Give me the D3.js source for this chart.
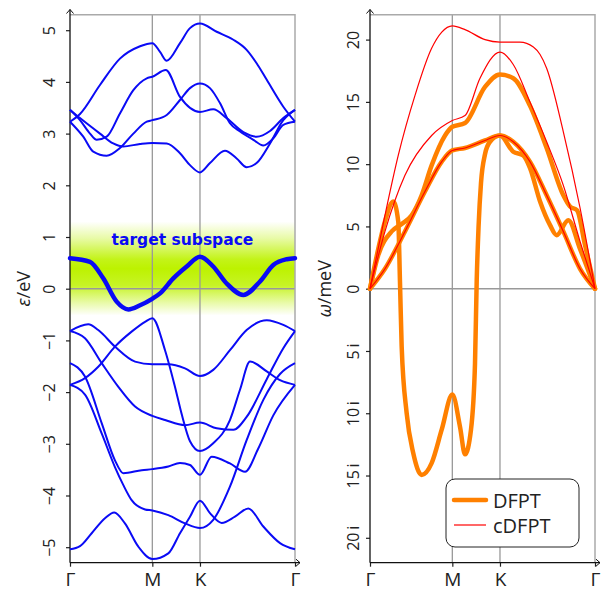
<!DOCTYPE html>
<html>
<head>
<meta charset="utf-8">
<script src="https://cdn.jsdelivr.net/npm/d3@7"></script>
<style>
  body { margin: 0; background: #fff; }
  text { font-family: "Open Sans", sans-serif; }
</style>
</head>
<body>
<div id="chart"></div>
<script>
// ---- path along the Brillouin zone (path length units) ----
const kTicks = [0, 0.577, 0.911, 1.577];
const kLabels = ["Γ", "M", "K", "Γ"];

// ---- electronic bands (eV) ----
const eTicks = [-5, -4, -3, -2, -1, 0, 1, 2, 3, 4, 5];

const bandU1 = [[0,3.23],[0.070,3.38],[0.210,3.94],[0.350,4.45],[0.491,4.69],[0.577,4.75],[0.631,4.58],[0.678,4.41],[0.771,4.75],[0.841,5.04],[0.911,5.13],[1.028,4.97],[1.142,4.82],[1.238,4.62],[1.308,4.36],[1.379,4.04],[1.495,3.52],[1.577,3.23]];
const bandU2 = [[0,3.46],[0.070,3.26],[0.140,3.00],[0.187,2.88],[0.257,2.94],[0.350,3.39],[0.444,3.84],[0.538,4.07],[0.577,4.10],[0.671,4.23],[0.771,3.71],[0.911,3.42],[1.004,3.47],[1.098,3.30],[1.215,3.03],[1.308,2.94],[1.402,3.05],[1.495,3.30],[1.577,3.46]];
const bandU3 = [[0,3.23],[0.093,2.94],[0.163,2.65],[0.257,2.57],[0.350,2.72],[0.444,3.00],[0.538,3.23],[0.577,3.26],[0.678,3.36],[0.771,3.65],[0.841,3.88],[0.911,3.97],[0.981,3.88],[1.051,3.59],[1.121,3.20],[1.192,3.04],[1.285,2.88],[1.355,2.77],[1.425,2.91],[1.495,3.17],[1.577,3.23]];
const bandU4 = [[0,3.46],[0.070,3.30],[0.210,3.00],[0.303,2.81],[0.374,2.75],[0.491,2.80],[0.577,2.82],[0.678,2.81],[0.771,2.62],[0.841,2.39],[0.911,2.25],[0.981,2.43],[1.086,2.67],[1.168,2.52],[1.238,2.35],[1.308,2.43],[1.402,2.81],[1.495,3.26],[1.577,3.46]];

const bandTarget = [[0,0.59],[0.140,0.52],[0.233,0.20],[0.327,-0.25],[0.409,-0.40],[0.491,-0.32],[0.573,-0.20],[0.631,-0.09],[0.724,0.20],[0.818,0.43],[0.911,0.62],[1.004,0.43],[1.098,0.10],[1.215,-0.12],[1.332,0.14],[1.425,0.46],[1.519,0.57],[1.577,0.59]];

const bandL1 = [[0,-0.82],[0.128,-0.69],[0.198,-0.80],[0.315,-1.12],[0.456,-1.41],[0.577,-1.46],[0.689,-1.46],[0.806,-1.54],[0.911,-1.69],[1.004,-1.57],[1.121,-1.19],[1.238,-0.80],[1.379,-0.61],[1.495,-0.70],[1.577,-0.82]];
const bandL2 = [[0,-0.82],[0.105,-0.96],[0.222,-1.44],[0.339,-1.90],[0.456,-2.28],[0.577,-2.46],[0.666,-2.54],[0.806,-2.64],[0.911,-2.59],[1.028,-2.70],[1.145,-2.73],[1.238,-2.48],[1.379,-1.75],[1.495,-1.15],[1.577,-0.82]];
const bandL3 = [[0,-1.86],[0.105,-1.73],[0.198,-1.51],[0.315,-1.12],[0.432,-0.83],[0.526,-0.64],[0.577,-0.57],[0.666,-1.19],[0.736,-1.90],[0.785,-2.45],[0.841,-2.95],[0.911,-3.14],[1.004,-2.99],[1.121,-2.54],[1.192,-1.95],[1.262,-1.41],[1.379,-1.60],[1.472,-1.77],[1.577,-1.86]];
const bandL4 = [[0,-1.44],[0.105,-1.70],[0.222,-2.60],[0.315,-3.32],[0.374,-3.57],[0.503,-3.51],[0.577,-3.49],[0.689,-3.44],[0.771,-3.37],[0.841,-3.41],[0.911,-3.60],[0.993,-3.25],[1.121,-3.38],[1.227,-3.54],[1.318,-3.10],[1.425,-2.45],[1.577,-1.86]];
const bandL5 = [[0,-1.86],[0.105,-2.05],[0.222,-2.80],[0.315,-3.45],[0.374,-3.80],[0.432,-4.09],[0.526,-4.27],[0.577,-4.29],[0.689,-4.38],[0.806,-4.54],[0.911,-4.63],[1.004,-4.47],[1.121,-3.83],[1.238,-2.93],[1.355,-2.15],[1.472,-1.65],[1.577,-1.44]];
const bandL6 = [[0,-5.04],[0.070,-4.98],[0.152,-4.73],[0.245,-4.44],[0.310,-4.33],[0.385,-4.54],[0.479,-4.99],[0.577,-5.23],[0.689,-5.12],[0.771,-4.73],[0.841,-4.41],[0.911,-4.10],[0.981,-4.34],[1.063,-4.53],[1.156,-4.41],[1.250,-4.25],[1.355,-4.60],[1.472,-4.92],[1.577,-5.04]];

const otherBands = [bandU1, bandU2, bandU3, bandU4, bandL1, bandL2, bandL3, bandL4, bandL5, bandL6];

// ---- phonons (meV, imaginary drawn negative) ----
const wTicks = [-20, -15, -10, -5, 0, 5, 10, 15, 20];
const wTickLabels = ["20\u2009i", "15\u2009i", "10\u2009i", "5\u2009i", "0", "5", "10", "15", "20"];

const dfpt1 = [[0,0],[0.058,2.7],[0.152,4.6],[0.222,5.2],[0.292,5.9],[0.362,7.5],[0.432,9.9],[0.526,12.3],[0.577,13.0],[0.666,13.3],[0.806,16.2],[0.911,17.2],[1.004,16.9],[1.121,14.7],[1.238,11.3],[1.355,7.5],[1.402,6.6],[1.451,6.3],[1.507,3.5],[1.577,0]];
const dfpt2 = [[0,0],[0.058,3.2],[0.105,5.4],[0.163,7.0],[0.198,5.4],[0.210,0.6],[0.222,-4.65],[0.257,-10.0],[0.303,-13.2],[0.362,-14.95],[0.432,-14.0],[0.503,-11.3],[0.577,-8.5],[0.631,-11.1],[0.666,-13.3],[0.708,-11.3],[0.736,-6.0],[0.748,0.7],[0.761,5.0],[0.778,8.5],[0.806,10.8],[0.841,11.8],[0.911,12.3],[1.004,11.0],[1.074,10.7],[1.121,9.7],[1.192,7.0],[1.262,5.1],[1.308,4.3],[1.390,5.5],[1.472,3.2],[1.577,0]];
const dfpt3 = [[0,0],[0.105,1.6],[0.245,4.6],[0.385,7.8],[0.503,10.2],[0.577,11.1],[0.666,11.3],[0.806,11.9],[0.911,12.3],[1.004,11.8],[1.121,10.2],[1.238,7.5],[1.355,4.6],[1.472,1.6],[1.577,0]];

const cdfpt1 = [[0,0],[0.105,5.9],[0.198,10.7],[0.315,15.5],[0.432,19.3],[0.503,20.6],[0.577,21.1],[0.666,20.8],[0.806,20.0],[0.911,19.8],[1.051,19.8],[1.145,19.4],[1.192,18.8],[1.238,17.7],[1.355,12.6],[1.472,6.5],[1.577,0]];
const cdfpt2 = [[0,0],[0.105,4.6],[0.245,9.1],[0.432,12.3],[0.577,13.5],[0.666,13.9],[0.771,16.9],[0.911,19.0],[1.004,18.0],[1.121,15.0],[1.238,11.8],[1.355,8.3],[1.472,3.8],[1.577,0]];
const cdfpt3 = [[0,0],[0.105,1.6],[0.245,4.6],[0.385,7.8],[0.503,10.2],[0.577,11.1],[0.666,11.3],[0.806,11.9],[0.911,12.3],[1.004,11.8],[1.121,10.2],[1.238,7.5],[1.355,4.6],[1.472,1.6],[1.577,0]];

const dfptLines = [dfpt1, dfpt2, dfpt3];
const cdfptLines = [cdfpt1, cdfpt2, cdfpt3];
const legendItems = ["DFPT", "cDFPT"];

// ---- layout ----
const W = 603, H = 592;
const plotTop = 14.7, plotBottom = 562.7;
const svg = d3.select("#chart").append("svg")
    .attr("width", W)
    .attr("height", H);

const xL = d3.scaleLinear().domain([0, 1.577]).range([70, 295]);
const yL = d3.scaleLinear().domain([-5.3, 5.3]).range([plotBottom, plotTop]);
const xR = d3.scaleLinear().domain([0, 1.577]).range([370, 595]);
const yR = d3.scaleLinear().domain([-22, 22]).range([plotBottom, plotTop]);

// green gradient for the target subspace
const grad = svg.append("defs").append("linearGradient")
    .attr("id", "band")
    .attr("x1", 0).attr("x2", 0).attr("y1", 0).attr("y2", 1);
[[0, 0], [0.18, 0.35], [0.4, 0.9], [0.5, 1], [0.68, 0.85], [0.86, 0.35], [1, 0]].forEach(s => {
    grad.append("stop")
        .attr("offset", s[0])
        .attr("stop-color", "#bdf200")
        .attr("stop-opacity", s[1]);
});

svg.append("rect")
    .attr("x", xL(0))
    .attr("width", xL(1.577) - xL(0))
    .attr("y", yL(1.3))
    .attr("height", yL(-0.52) - yL(1.3))
    .attr("fill", "url(#band)");

function drawFrame(x, y, yTicks, yFormat, labelBase) {
    const g = svg.append("g");
    // grid lines at M and K
    g.selectAll(".vgrid")
        .data(kTicks.slice(1, 3))
        .join("line")
        .attr("x1", d => x(d)).attr("x2", d => x(d))
        .attr("y1", plotTop).attr("y2", plotBottom)
        .attr("stroke", "#999").attr("stroke-width", 1.3);
    // zero line
    g.append("line")
        .attr("x1", x(0)).attr("x2", x(1.577))
        .attr("y1", y(0)).attr("y2", y(0))
        .attr("stroke", "#999").attr("stroke-width", 1.5);
    // top and right frame
    g.append("path")
        .attr("d", `M${x(0)},${plotTop}H${x(1.577)}V${plotBottom}`)
        .attr("fill", "none")
        .attr("stroke", "#aaa").attr("stroke-width", 1.5);

    // y axis
    const ya = g.append("g")
        .attr("transform", `translate(${x(0)},0)`)
        .call(d3.axisLeft(y).tickValues(yTicks).tickSize(4).tickFormat(yFormat));
    ya.select(".domain").remove();
    ya.selectAll(".tick line").attr("stroke", "#222").attr("stroke-width", 1.2);
    ya.selectAll(".tick text")
        .attr("x", 0).attr("y", labelBase).attr("dy", 0)
        .attr("text-anchor", "middle")
        .attr("transform", "rotate(-90)")
        .style("font-family", "'Open Sans', sans-serif")
        .style("font-size", "16px")
        .attr("fill", "#222");

    // x axis
    const xa = g.append("g")
        .attr("transform", `translate(0,${plotBottom})`)
        .call(d3.axisBottom(x).tickValues(kTicks).tickSize(4).tickFormat((d, i) => kLabels[i]));
    xa.select(".domain").remove();
    xa.selectAll(".tick line").attr("stroke", "#222").attr("stroke-width", 1.2);
    xa.selectAll(".tick text")
        .attr("y", 23.3).attr("dy", 0)
        .style("font-family", "'Open Sans', sans-serif")
        .style("font-size", "19px")
        .attr("fill", "#222");

    // axis lines with arrows
    const x0 = x(0), x1 = x(1.577) + 5;
    g.append("path")
        .attr("d", `M${x0},${plotBottom}V9.5M${x0},${plotBottom}H${x1}`)
        .attr("fill", "none").attr("stroke", "#111").attr("stroke-width", 1.3);
    g.append("path")
        .attr("d", `M${x0 - 3.5},13.5L${x0},9.5L${x0 + 3.5},13.5M${x1 - 4},${plotBottom - 3.5}L${x1},${plotBottom}L${x1 - 4},${plotBottom + 3.5}`)
        .attr("fill", "none").attr("stroke", "#111").attr("stroke-width", 1);
}

drawFrame(xL, yL, eTicks, d => d < 0 ? "\u2212" + (-d) : d, -15);
drawFrame(xR, yR, wTicks, (d, i) => wTickLabels[i], -11.5);

// ---- left panel bands ----
const lineL = d3.line().x(d => xL(d[0])).y(d => yL(d[1])).curve(d3.curveMonotoneX);
svg.append("g")
    .selectAll("path")
    .data(otherBands)
    .join("path")
    .attr("d", lineL)
    .attr("fill", "none")
    .attr("stroke", "#0a0af5")
    .attr("stroke-width", 2);

svg.append("path")
    .attr("d", lineL(bandTarget))
    .attr("fill", "none")
    .attr("stroke", "#0a0af5")
    .attr("stroke-width", 4.5)
    .attr("stroke-linecap", "round");

svg.append("text")
    .attr("x", 182.5)
    .attr("y", 245)
    .attr("text-anchor", "middle")
    .style("font-family", "'DejaVu Sans', sans-serif")
    .style("font-weight", "bold")
    .style("font-size", "15.5px")
    .attr("fill", "#0a0af5")
    .text("target subspace");

// ---- right panel phonons ----
const lineR = d3.line().x(d => xR(d[0])).y(d => yR(d[1])).curve(d3.curveMonotoneX);
svg.append("g")
    .selectAll("path")
    .data(dfptLines)
    .join("path")
    .attr("d", lineR)
    .attr("fill", "none")
    .attr("stroke", "#ff8000")
    .attr("stroke-width", 4.5)
    .attr("stroke-linecap", "round");

svg.append("g")
    .selectAll("path")
    .data(cdfptLines)
    .join("path")
    .attr("d", lineR)
    .attr("fill", "none")
    .attr("stroke", "#ff0000")
    .attr("stroke-width", 1.2);

// ---- axis titles ----
const yt1 = svg.append("text")
    .attr("transform", "translate(30,288.7) rotate(-90)")
    .attr("text-anchor", "middle")
    .style("font-size", "18px")
    .attr("fill", "#222");
yt1.append("tspan").style("font-style", "italic").text("ε");
yt1.append("tspan").text("/eV");

const yt2 = svg.append("text")
    .attr("transform", "translate(331,288.7) rotate(-90)")
    .attr("text-anchor", "middle")
    .style("font-size", "18px")
    .attr("fill", "#222");
yt2.append("tspan").style("font-style", "italic").text("ω");
yt2.append("tspan").text("/meV");

// ---- legend ----
const lg = svg.append("g");
lg.append("rect")
    .attr("x", 446).attr("y", 479)
    .attr("width", 133).attr("height", 68)
    .attr("rx", 9)
    .attr("fill", "#fff")
    .attr("stroke", "#222").attr("stroke-width", 1);
const legStyle = [{ c: "#ff8000", w: 4.5 }, { c: "#ff0000", w: 1.2 }];
legendItems.forEach((name, i) => {
    const yy = 500 + i * 25;
    lg.append("line")
        .attr("x1", 454).attr("x2", 486)
        .attr("y1", yy).attr("y2", yy)
        .attr("stroke", legStyle[i].c)
        .attr("stroke-width", legStyle[i].w)
        .attr("stroke-linecap", i === 0 ? "round" : "butt");
    lg.append("text")
        .attr("x", 493).attr("y", yy + 8)
        .style("font-size", "20px")
        .attr("fill", "#222")
        .text(name);
});
</script>
</body>
</html>
